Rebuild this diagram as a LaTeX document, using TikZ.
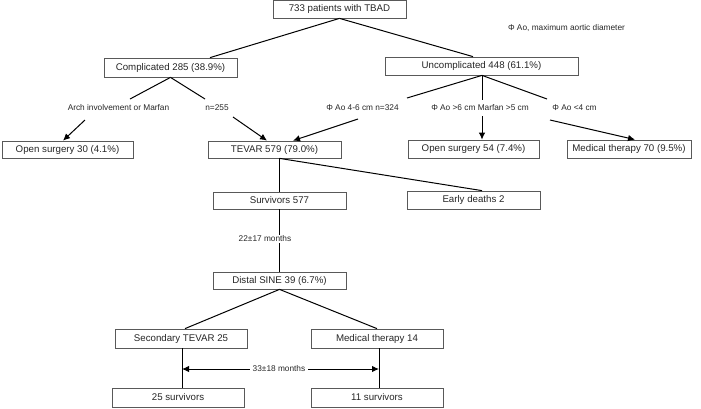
\documentclass[tikz,border=0pt]{standalone}
\usepackage{fontspec}
\setmainfont{Liberation Sans}
\usetikzlibrary{arrows.meta}
\begin{document}
\begin{tikzpicture}[x=1pt,y=-1pt,
  box/.style={draw=black!65, line width=0.75pt, inner sep=0pt, font=\fontsize{9.7}{11}\selectfont, text=black!85},
  lab/.style={inner sep=1pt, font=\fontsize{8.3}{10}\selectfont, text=black!85},
  conn/.style={line width=1pt, black},
  arr/.style={conn, -{Latex[length=7pt,width=6.5pt]}}]
\useasboundingbox (0,0) rectangle (701,408);
% boxes
\node[box, minimum width=133pt, minimum height=17.5pt] (top) at (339.5,9.25) {733 patients with TBAD};
\node[box, minimum width=133pt, minimum height=19pt] (comp) at (170.5,67.5) {Complicated 285 (38.9\%)};
\node[box, minimum width=193pt, minimum height=18pt] (uncomp) at (481.5,66) {Uncomplicated 448 (61.1\%)};
\node[box, minimum width=131pt, minimum height=17pt] (os30) at (67.5,149.5) {Open surgery 30 (4.1\%)};
\node[box, minimum width=133pt, minimum height=17pt] (tevar) at (274.5,149.5) {TEVAR 579 (79.0\%)};
\node[box, minimum width=131pt, minimum height=18pt] (os54) at (473.5,149) {Open surgery 54 (7.4\%)};
\node[box, minimum width=124pt, minimum height=18pt] (med70) at (629,149) {Medical therapy 70 (9.5\%)};
\node[box, minimum width=133pt, minimum height=17pt] (surv) at (279.5,200.5) {Survivors 577};
\node[box, minimum width=133pt, minimum height=18pt] (early) at (473.5,200) {Early deaths 2};
\node[box, minimum width=133pt, minimum height=17pt] (distal) at (279.5,280.5) {Distal SINE 39 (6.7\%)};
\node[box, minimum width=132pt, minimum height=19pt] (sec) at (181,338.5) {Secondary TEVAR 25};
\node[box, minimum width=132pt, minimum height=19pt] (med14) at (377,338.5) {Medical therapy 14};
\node[box, minimum width=132pt, minimum height=19pt] (s25) at (178,397.5) {25 survivors};
\node[box, minimum width=132pt, minimum height=19pt] (s11) at (377,397.5) {11 survivors};
% labels
\node[lab] (note) at (566.5,28) {Φ Ao, maximum aortic diameter};
\node[lab] (lArch) at (118.5,108) {Arch involvement or Marfan};
\node[lab] (lN) at (217,108) {n=255};
\node[lab] (lA46) at (362.5,108) {Φ Ao 4-6 cm n=324};
\node[lab] (lA6) at (480,108) {Φ Ao >6 cm Marfan >5 cm};
\node[lab] (lA4) at (574.5,108) {Φ Ao <4 cm};
% label-side connector ends
\coordinate (aArchT) at (130,99);
\coordinate (aArchB) at (85,120);
\coordinate (aNT) at (205,99);
\coordinate (aNB) at (233,117);
\coordinate (a46T) at (407,98);
\coordinate (a46B) at (358,119);
\coordinate (a6T) at (482,100);
\coordinate (a6B) at (482,116);
\coordinate (a4T) at (547,99);
\coordinate (a4B) at (550,120);
% top split
\draw[conn] (top.south) -- ([xshift=39.5pt]comp.north);
\draw[conn] (top.south) -- ([xshift=-8.5pt]uncomp.north);
% complicated
\draw[conn] (comp.south) -- (aArchT);
\draw[arr] (aArchB) -- ([xshift=-4.5pt]os30.north);
\draw[conn] (comp.south) -- (aNT);
\draw[arr] (aNB) -- ([xshift=-7.5pt]tevar.north);
% uncomplicated
\draw[conn] ([xshift=0.5pt]uncomp.south) -- (a46T);
\draw[arr] (a46B) -- ([xshift=18.5pt]tevar.north);
\draw[conn] ([xshift=0.5pt]uncomp.south) -- (a6T);
\draw[arr] (a6B) -- ([xshift=8.5pt]os54.north);
\draw[conn] ([xshift=0.5pt]uncomp.south) -- (a4T);
\draw[arr] (a4B) -- ([xshift=6pt]med70.north);
% tevar
\draw[conn] (surv.north |- tevar.south) -- (surv.north);
\draw[conn] (surv.north |- tevar.south) -- ([xshift=8.5pt]early.north);
\draw[conn] (surv.south) -- (distal.north);
\node[lab, fill=white] (l22) at (265,239) {22±17 months};
% distal
\draw[conn] (distal.south) -- ([xshift=4pt]sec.north);
\draw[conn] (distal.south) -- (med14.north);
\draw[conn] ([xshift=1pt]sec.south) -- ([xshift=1pt]sec.south |- s25.north);
\draw[conn] ([xshift=2pt]med14.south) -- ([xshift=2pt]med14.south |- s11.north);
\node[lab] (l33) at (279,369) {33±18 months};
\draw[arr] ([xshift=-2pt]l33.west) -- ([xshift=1pt]sec.south |- l33.west);
\draw[arr] ([xshift=2pt]l33.east) -- ([xshift=2pt]med14.south |- l33.east);
\end{tikzpicture}
\end{document}
